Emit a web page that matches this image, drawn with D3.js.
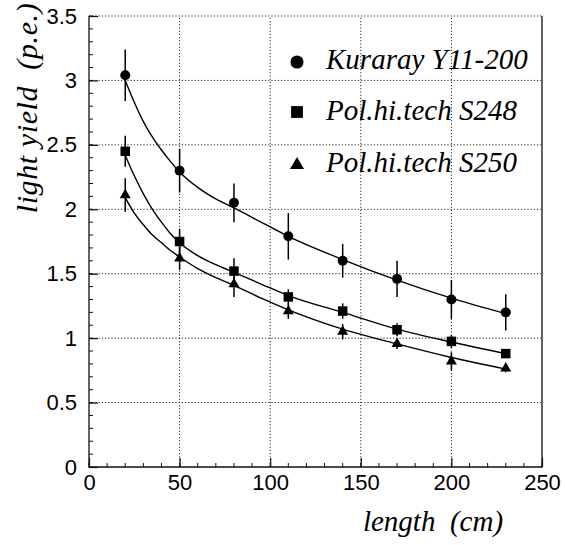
<!DOCTYPE html>
<html>
<head>
<meta charset="utf-8">
<script src="https://cdn.jsdelivr.net/npm/d3@7"></script>
<style>
  html, body { margin: 0; padding: 0; background: #fff; }
  svg { display: block; }
  .serif { font-family: "Liberation Serif", "Times New Roman", Times, "DejaVu Serif", serif; font-style: italic; }
  .sans { font-family: "Liberation Sans", Arial, Helvetica, sans-serif; }
</style>
</head>
<body>
<svg id="chart" width="565" height="545"></svg>
<script>
// ---- data ----
const lengths = [20, 50, 80, 110, 140, 170, 200, 230];

const seriesNames = ["Kuraray Y11-200", "Pol.hi.tech S248", "Pol.hi.tech S250"];

const kurarayValues = [3.04, 2.30, 2.05, 1.79, 1.60, 1.46, 1.30, 1.20];
const kurarayErrors = [0.20, 0.17, 0.15, 0.18, 0.13, 0.14, 0.15, 0.14];

const s248Values = [2.45, 1.75, 1.52, 1.32, 1.21, 1.065, 0.975, 0.88];
const s248Errors = [0.12, 0.10, 0.10, 0.06, 0.06, 0.05, 0.05, 0.03];

const s250Values = [2.11, 1.62, 1.42, 1.21, 1.05, 0.955, 0.82, 0.765];
const s250Errors = [0.13, 0.09, 0.10, 0.06, 0.06, 0.04, 0.07, 0.03];

// fitted curves
const fitLengths = [20, 25, 30, 35, 40, 45, 50, 60, 70, 80, 95, 110, 140, 170, 200, 230];
const kurarayFit = [3.00, 2.83, 2.68, 2.56, 2.46, 2.37, 2.29, 2.17, 2.08, 2.01, 1.90, 1.79, 1.61, 1.45, 1.31, 1.19];
const s248Fit    = [2.42, 2.26, 2.12, 2.00, 1.90, 1.81, 1.74, 1.64, 1.57, 1.51, 1.42, 1.33, 1.20, 1.07, 0.97, 0.88];
const s250Fit    = [2.09, 1.97, 1.88, 1.80, 1.74, 1.68, 1.63, 1.54, 1.47, 1.41, 1.31, 1.22, 1.07, 0.955, 0.85, 0.76];

const xMajorTicks = [0, 50, 100, 150, 200, 250];
const yMajorTicks = [0, 0.5, 1, 1.5, 2, 2.5, 3, 3.5];
const yTickLabels = ["0", "0.5", "1", "1.5", "2", "2.5", "3", "3.5"];
const xMinorTicks = d3.range(0, 251, 10);
const yMinorTicks = d3.range(0, 36, 1).map(d => d / 10);

const xTitle = "length\u00a0\u00a0(cm)";
const yTitle = "light yield\u00a0\u00a0(p.e.)";

// ---- layout ----
const svg = d3.select("#chart");
const X0 = 89, X1 = 542, Y0 = 467, Y1 = 16;
const x = d3.scaleLinear().domain([0, 250]).range([X0, X1]);
const y = d3.scaleLinear().domain([0, 3.5]).range([Y0, Y1]);

svg.append("rect").attr("width", 565).attr("height", 545).attr("fill", "#fff");

// grid
const grid = svg.append("g").attr("stroke", "#222").attr("stroke-width", 1)
  .attr("stroke-dasharray", "1.2,2").attr("fill", "none");
grid.selectAll("line.v").data(xMajorTicks.filter(d => d > 0 && d < 250)).join("line")
  .attr("x1", d => x(d)).attr("x2", d => x(d)).attr("y1", Y0).attr("y2", Y1);
grid.selectAll("line.h").data(yMajorTicks.filter(d => d > 0)).join("line")
  .attr("x1", X0).attr("x2", X1).attr("y1", d => y(d)).attr("y2", d => y(d));

// frame: left, bottom, right solid
svg.append("path")
  .attr("d", `M${X0},${Y1}V${Y0}H${X1}V${Y1}`)
  .attr("fill", "none").attr("stroke", "#111").attr("stroke-width", 1.3);

// axes with inward ticks
const yAxis = d3.axisLeft(y).tickValues(yMajorTicks)
  .tickFormat((d, i) => yTickLabels[i]).tickSize(-9).tickPadding(12);
const gy = svg.append("g").attr("transform", `translate(${X0},0)`).call(yAxis);
const xAxis = d3.axisBottom(x).tickValues(xMajorTicks).tickFormat(d3.format("d"))
  .tickSize(-9).tickPadding(7);
const gx = svg.append("g").attr("transform", `translate(0,${Y0})`).call(xAxis);
[gx, gy].forEach(g => {
  g.attr("font-family", null).attr("font-size", null);
  g.select(".domain").remove();
  g.selectAll(".tick line").attr("stroke", "#111").attr("stroke-width", 1.2);
  g.selectAll(".tick text").attr("fill", "#000").attr("class", "sans")
    .style("font-size", "22px");
});

// minor ticks
svg.append("g").selectAll("line").data(yMinorTicks).join("line")
  .attr("x1", X0).attr("x2", X0 + 4).attr("y1", d => y(d)).attr("y2", d => y(d))
  .attr("stroke", "#111").attr("stroke-width", 1);
svg.append("g").selectAll("line").data(xMinorTicks).join("line")
  .attr("x1", d => x(d)).attr("x2", d => x(d)).attr("y1", Y0).attr("y2", Y0 - 4)
  .attr("stroke", "#111").attr("stroke-width", 1);

// axis titles
svg.append("text").attr("class", "serif").attr("x", 433).attr("y", 531)
  .attr("text-anchor", "middle").style("font-size", "29px")
  .text(xTitle);
svg.append("text").attr("class", "serif").attr("transform", "translate(37,108) rotate(-90)")
  .attr("text-anchor", "middle").style("font-size", "30px").style("letter-spacing", "0.6px")
  .text(yTitle);

// series
const series = [
  { name: seriesNames[0], vals: kurarayValues, errs: kurarayErrors, fit: kurarayFit, sym: d3.symbolCircle, size: 78, lsize: 135 },
  { name: seriesNames[1], vals: s248Values, errs: s248Errors, fit: s248Fit, sym: d3.symbolSquare, size: 90, lsize: 140 },
  { name: seriesNames[2], vals: s250Values, errs: s250Errors, fit: s250Fit, sym: d3.symbolTriangle, size: 52, lsize: 85 }
];

const line = d3.line().x(d => x(d[0])).y(d => y(d[1])).curve(d3.curveMonotoneX);

series.forEach(s => {
  svg.append("path").datum(fitLengths.map((l, i) => [l, s.fit[i]]))
    .attr("d", line).attr("fill", "none").attr("stroke", "#000").attr("stroke-width", 1.4);
  const g = svg.append("g");
  g.selectAll("line").data(lengths).join("line")
    .attr("x1", d => x(d)).attr("x2", d => x(d))
    .attr("y1", (d, i) => y(s.vals[i] - s.errs[i]))
    .attr("y2", (d, i) => y(s.vals[i] + s.errs[i]))
    .attr("stroke", "#000").attr("stroke-width", 1.5);
  g.selectAll("path").data(lengths).join("path")
    .attr("transform", (d, i) => `translate(${x(d)},${y(s.vals[i])})`)
    .attr("d", d3.symbol().type(s.sym).size(s.size)).attr("fill", "#000");
});

// legend
const legendRows = [62, 112, 165];
const legendBase = [68.5, 120, 171.5];
series.forEach((s, i) => {
  svg.append("path").attr("transform", `translate(297,${legendRows[i]})`)
    .attr("d", d3.symbol().type(s.sym).size(s.lsize)).attr("fill", "#000");
  svg.append("text").attr("class", "serif").attr("x", 326).attr("y", legendBase[i])
    .style("font-size", "29px")
    .text(s.name);
});
</script>
</body>
</html>
